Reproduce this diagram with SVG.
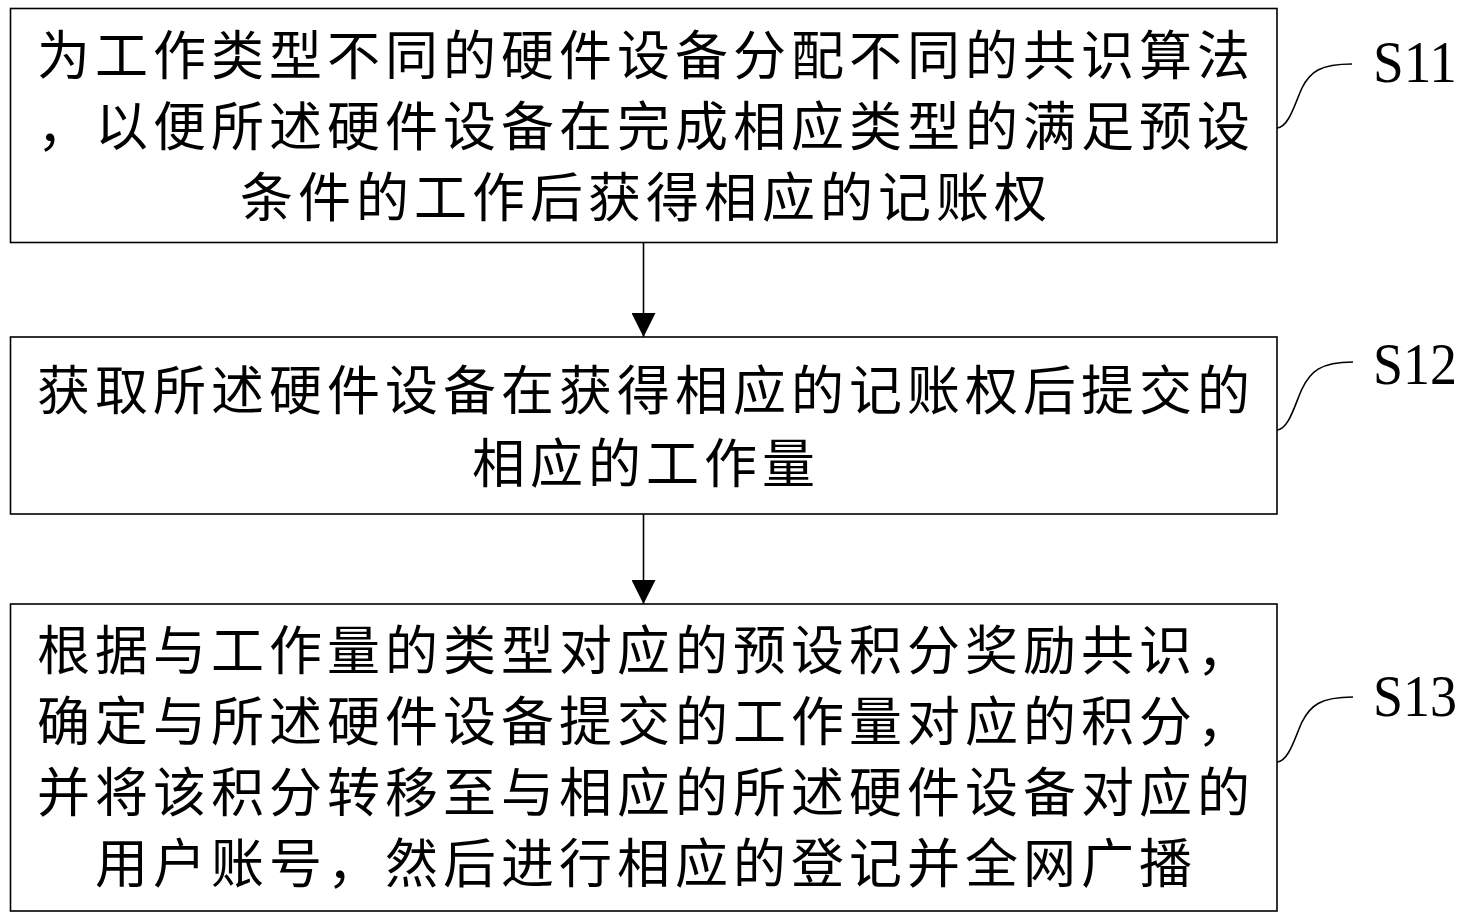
<svg xmlns="http://www.w3.org/2000/svg" width="1470" height="920" viewBox="0 0 1470 920">
<defs>
<style>
.box{fill:#fff;stroke:#000;stroke-width:1.6}
.t{font-family:"Noto Sans CJK SC","Noto Sans CJK JP",sans-serif;font-size:53px;letter-spacing:5px;fill:#000;text-anchor:middle}
.lbl{font-family:"Liberation Serif","Times New Roman",serif;font-size:60px;fill:#000}
.lead{fill:none;stroke:#000;stroke-width:1.6}
.conn{fill:none;stroke:#000;stroke-width:1.6}
</style>
<marker id="ah" markerUnits="userSpaceOnUse" markerWidth="26" markerHeight="24" refX="25" refY="12.5" orient="auto" viewBox="0 0 26 25">
<path d="M0,0 L25,12.5 L0,25 Z" fill="#000"/>
</marker>
</defs>
<rect width="1470" height="920" fill="#fff"/>
<g id="connectors">
<line class="conn" x1="643.5" y1="243" x2="643.5" y2="337" marker-end="url(#ah)"/>
<line class="conn" x1="643.5" y1="514" x2="643.5" y2="604" marker-end="url(#ah)"/>
</g>
<g id="S11">
<rect class="box" x="10.5" y="8.5" width="1266.5" height="234"/>
<text class="t" x="646" y="75">为工作类型不同的硬件设备分配不同的共识算法</text>
<text class="t" x="646" y="146">，以便所述硬件设备在完成相应类型的满足预设</text>
<text class="t" x="646" y="217">条件的工作后获得相应的记账权</text>
<path class="lead" d="M1277,128 C1289,127 1295,103 1302,88 C1310,72 1320,64 1352,64"/>
<text class="lbl" x="1373" y="82" textLength="84" lengthAdjust="spacingAndGlyphs">S11</text>
</g>
<g id="S12">
<rect class="box" x="10.5" y="337" width="1266.5" height="177"/>
<text class="t" x="646" y="410">获取所述硬件设备在获得相应的记账权后提交的</text>
<text class="t" x="646" y="483">相应的工作量</text>
<path class="lead" d="M1277,430 C1289,429 1295,404 1302,389 C1310,372 1320,362 1353,362"/>
<text class="lbl" x="1373" y="384" textLength="84" lengthAdjust="spacingAndGlyphs">S12</text>
</g>
<g id="S13">
<rect class="box" x="10.5" y="604" width="1266.5" height="307"/>
<text class="t" x="646" y="670">根据与工作量的类型对应的预设积分奖励共识，</text>
<text class="t" x="646" y="741">确定与所述硬件设备提交的工作量对应的积分，</text>
<text class="t" x="646" y="812">并将该积分转移至与相应的所述硬件设备对应的</text>
<text class="t" x="646" y="883">用户账号，然后进行相应的登记并全网广播</text>
<path class="lead" d="M1277,762 C1289,761 1295,737 1302,722 C1310,706 1320,697 1353,697"/>
<text class="lbl" x="1373" y="716" textLength="84" lengthAdjust="spacingAndGlyphs">S13</text>
</g>
</svg>
